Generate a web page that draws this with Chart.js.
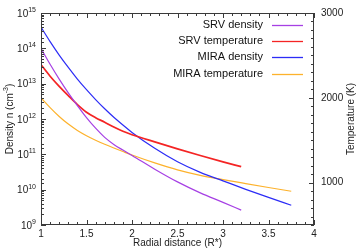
<!DOCTYPE html>
<html>
<head>
<meta charset="utf-8">
<script src="https://cdn.jsdelivr.net/npm/chart.js@4.4.1/dist/chart.umd.min.js"></script>
<style>
  html, body { margin: 0; padding: 0; background: #fff; }
  #wrap { width: 357px; height: 249px; }
</style>
</head>
<body>
<div id="wrap"><canvas id="profiles"></canvas></div>
<script>
// radial distance (R*) sampled along each model
var srvRadius = [1, 1.1, 1.2, 1.3, 1.4, 1.5, 1.6, 1.7, 1.8, 1.9, 2, 2.25, 2.5, 2.75, 3, 3.2];
var miraRadius = [1, 1.1, 1.2, 1.3, 1.4, 1.5, 1.6, 1.7, 1.8, 1.9, 2, 2.25, 2.5, 2.75, 3, 3.25, 3.5, 3.75];

// densities in cm^-3, read as powers of ten
var srvDensityExp = [14.00, 13.55, 13.13, 12.74, 12.38, 12.04, 11.74, 11.48, 11.28, 11.12, 10.97, 10.58, 10.22, 9.91, 9.64, 9.42];
var miraDensityExp = [14.60, 14.19, 13.81, 13.46, 13.13, 12.83, 12.55, 12.29, 12.05, 11.83, 11.62, 11.17, 10.79, 10.49, 10.25, 10.01, 9.78, 9.56];

// temperatures in K
var srvTemperature = [2390, 2255, 2135, 2025, 1920, 1830, 1765, 1712, 1655, 1605, 1565, 1480, 1398, 1320, 1245, 1188];
var miraTemperature = [2000, 1885, 1780, 1690, 1615, 1553, 1500, 1452, 1408, 1366, 1325, 1232, 1150, 1085, 1035, 988, 942, 898];

var seriesNames = ['SRV density', 'SRV temperature', 'MIRA density', 'MIRA temperature'];
var seriesColors = ['#a640e4', '#f42424', '#2c2cf6', '#fdb22c'];

var FONT = "'Liberation Sans', Arial, sans-serif";

function points(xs, ys) {
    return xs.map(function (x, i) { return {x: x, y: ys[i]}; });
}
function pow10(list) {
    return list.map(function (e) { return Math.pow(10, e); });
}
function decade(v) {
    var e = Math.log10(v);
    return Math.abs(e - Math.round(e)) < 1e-6 ? Math.round(e) : null;
}

Chart.defaults.font.family = FONT;
Chart.defaults.color = '#222';

// text with a raised exponent, right edge at x
function drawPower(ctx, base, exp, x, y) {
    ctx.font = '7px ' + FONT;
    var ew = ctx.measureText(exp).width;
    ctx.textAlign = 'left';
    ctx.fillText(exp, x - ew, y - 4);
    ctx.font = '10px ' + FONT;
    ctx.textAlign = 'right';
    ctx.fillText(base, x - ew, y);
}

// gnuplot style frame with inward ticks, legend and axis titles
var frameTicks = {
    id: 'frameTicks',
    afterDraw: function (chart) {
        var ctx = chart.ctx, a = chart.chartArea, s = chart.scales;
        ctx.save();
        ctx.strokeStyle = '#3a3a3a';
        ctx.lineWidth = 1;
        ctx.beginPath();
        s.x.ticks.forEach(function (t) {
            var px = Math.round(s.x.getPixelForValue(t.value)) + 0.5;
            var len = t.label ? 5 : 3;
            ctx.moveTo(px, a.bottom); ctx.lineTo(px, a.bottom - len);
            ctx.moveTo(px, a.top); ctx.lineTo(px, a.top + len);
        });
        s.y.ticks.forEach(function (t) {
            var py = Math.round(s.y.getPixelForValue(t.value)) + 0.5;
            var len = decade(t.value) !== null ? 5 : 3;
            ctx.moveTo(a.left, py); ctx.lineTo(a.left + len, py);
        });
        s.y2.ticks.forEach(function (t) {
            var py = Math.round(s.y2.getPixelForValue(t.value)) + 0.5;
            var len = t.label ? 5 : 3;
            ctx.moveTo(a.right, py); ctx.lineTo(a.right - len, py);
        });
        ctx.stroke();
        ctx.strokeRect(Math.round(a.left) + 0.5, Math.round(a.top) + 0.5,
            Math.round(a.right - a.left) - 1, Math.round(a.bottom - a.top) - 1);

        // density tick labels 10^n
        ctx.fillStyle = '#222';
        ctx.textBaseline = 'middle';
        s.y.ticks.forEach(function (t) {
            var e = decade(t.value);
            if (e === null) return;
            drawPower(ctx, '10', String(e), a.left - 5, s.y.getPixelForValue(t.value) + 1);
        });

        // legend
        ctx.font = '11px ' + FONT;
        ctx.textAlign = 'right';
        ctx.fillStyle = '#111';
        chart.data.datasets.forEach(function (ds, i) {
            var y = a.top + 11.7 + i * 16.3;
            ctx.fillText(ds.label, a.right - 51, y);
            ctx.strokeStyle = ds.borderColor;
            ctx.lineWidth = 1.3;
            ctx.beginPath();
            ctx.moveTo(a.right - 42, Math.round(y) + 0.5);
            ctx.lineTo(a.right - 11, Math.round(y) + 0.5);
            ctx.stroke();
        });

        // left axis title with superscript
        var midY = (a.top + a.bottom) / 2;
        ctx.fillStyle = '#222';
        ctx.save();
        ctx.translate(10, midY);
        ctx.rotate(-Math.PI / 2);
        ctx.font = '10px ' + FONT;
        var w1 = ctx.measureText('Density n (cm').width;
        var w3 = ctx.measureText(')').width;
        ctx.font = '7px ' + FONT;
        var w2 = ctx.measureText('-3').width;
        var x0 = -(w1 + w2 + w3) / 2;
        ctx.textAlign = 'left';
        ctx.font = '10px ' + FONT;
        ctx.fillText('Density n (cm', x0, 0);
        ctx.font = '7px ' + FONT;
        ctx.fillText('-3', x0 + w1, -4);
        ctx.font = '10px ' + FONT;
        ctx.fillText(')', x0 + w1 + w2, 0);
        ctx.restore();

        // right axis title, reading bottom to top
        ctx.translate(351, midY);
        ctx.rotate(-Math.PI / 2);
        ctx.textAlign = 'center';
        ctx.font = '10px ' + FONT;
        ctx.fillText('Temperature (K)', 0, 0);
        ctx.restore();
    }
};

var datasetList = [
    {label: seriesNames[0], data: points(srvRadius, pow10(srvDensityExp)), yAxisID: 'y', borderColor: seriesColors[0], borderWidth: 1.2},
    {label: seriesNames[1], data: points(srvRadius, srvTemperature), yAxisID: 'y2', borderColor: seriesColors[1], borderWidth: 1.7},
    {label: seriesNames[2], data: points(miraRadius, pow10(miraDensityExp)), yAxisID: 'y', borderColor: seriesColors[2], borderWidth: 1.2},
    {label: seriesNames[3], data: points(miraRadius, miraTemperature), yAxisID: 'y2', borderColor: seriesColors[3], borderWidth: 1.2}
];

var ctx = document.getElementById('profiles');
var myChart = new Chart(ctx, {
    type: 'line',
    plugins: [frameTicks],
    data: {datasets: datasetList},
    options: {
        responsive: true,
        maintainAspectRatio: false,
        animation: false,
        layout: {padding: {top: 9, left: 0, right: 0, bottom: 0}},
        elements: {
            point: {radius: 0},
            line: {cubicInterpolationMode: 'monotone', fill: false}
        },
        plugins: {
            legend: {display: false},
            tooltip: {enabled: false}
        },
        scales: {
            x: {
                type: 'linear',
                position: 'bottom',
                min: 1,
                max: 4,
                grid: {display: false, drawTicks: false},
                border: {display: false},
                ticks: {
                    stepSize: 0.1,
                    autoSkip: false,
                    maxRotation: 0,
                    padding: 3,
                    font: {size: 10},
                    color: '#222',
                    callback: function (v) {
                        var r = Math.round(v * 10) / 10;
                        return Math.abs(r * 2 - Math.round(r * 2)) < 1e-6 ? String(r) : '';
                    }
                },
                title: {display: true, text: 'Radial distance (R*)', font: {size: 10}, color: '#222', padding: {top: 0, bottom: 0}},
                afterFit: function (scale) { scale.height = 24; }
            },
            y: {
                type: 'logarithmic',
                position: 'left',
                min: 1e9,
                max: 1e15,
                grid: {display: false, drawTicks: false},
                border: {display: false},
                ticks: {display: false, autoSkip: false},
                afterFit: function (scale) { scale.width = 41; }
            },
            y2: {
                type: 'linear',
                position: 'right',
                min: 500,
                max: 3000,
                grid: {display: false, drawTicks: false},
                border: {display: false},
                ticks: {
                    stepSize: 100,
                    autoSkip: false,
                    padding: 7,
                    font: {size: 10},
                    color: '#222',
                    callback: function (v) { return v % 1000 === 0 ? String(v) : ''; }
                },
                afterFit: function (scale) { scale.width = 43; }
            }
        }
    }
});
</script>
</body>
</html>
